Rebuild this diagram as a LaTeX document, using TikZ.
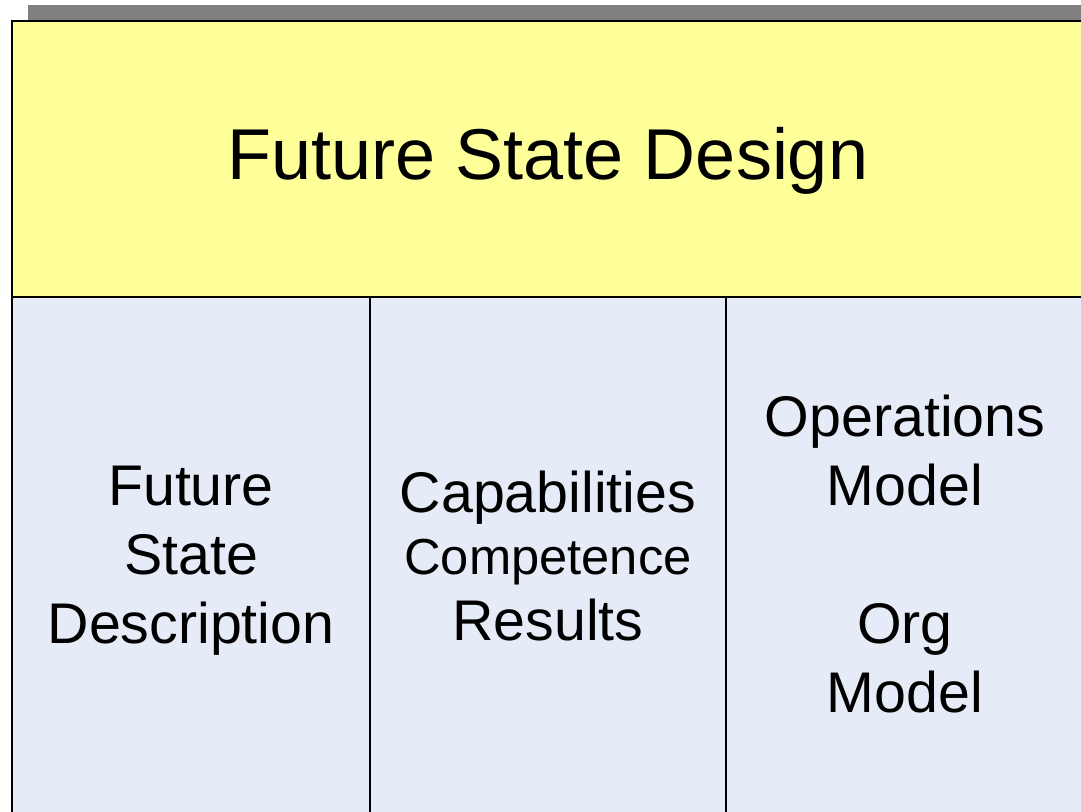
\documentclass[tikz,border=0pt]{standalone}
\usepackage{fontspec}
\setmainfont{Liberation Sans}
\definecolor{titleyellow}{HTML}{FFFF99}
\definecolor{cellblue}{HTML}{E6ECF7}
\definecolor{bargray}{HTML}{808080}
\begin{document}
\begin{tikzpicture}[
	x=0.75pt, y=-0.75pt,
	box/.style = {draw, line width=1.5pt},
	label/.style = {align=center, inner sep=0pt, font=\fontsize{43}{51.75}\selectfont}]
	
	\def \split {297}
	\def \bottom {830} % boxes run past the lower edge
	
	\useasboundingbox (0,0) rectangle (1081,812);
	\clip (0,0) rectangle (1081,812);
	\fill[bargray] (28,5) rectangle (1081,21);
	\draw[box, fill=titleyellow] (12,21) rectangle (1100,\split);
	\foreach \l/\r in {12/370, 370/726, 726/1100}
	{
		\draw[box, fill=cellblue] (\l,\split) rectangle (\r,\bottom);
	}
	\node[inner sep=0pt, font=\fontsize{54}{60}\selectfont] (title) at (548,161) {Future State Design};
	\node[label] (desc) at (191,561) {Future\\State\\Description};
	\node[label] (capab) at (548,556) {Capabilities\\[-5pt]{\fontsize{38}{46}\selectfont Competence}\\[-2pt]Results};
	\node[label] (model) at (905,554) {Operations\\Model\\[51.75pt]Org\\Model};
\end{tikzpicture}
\end{document}
